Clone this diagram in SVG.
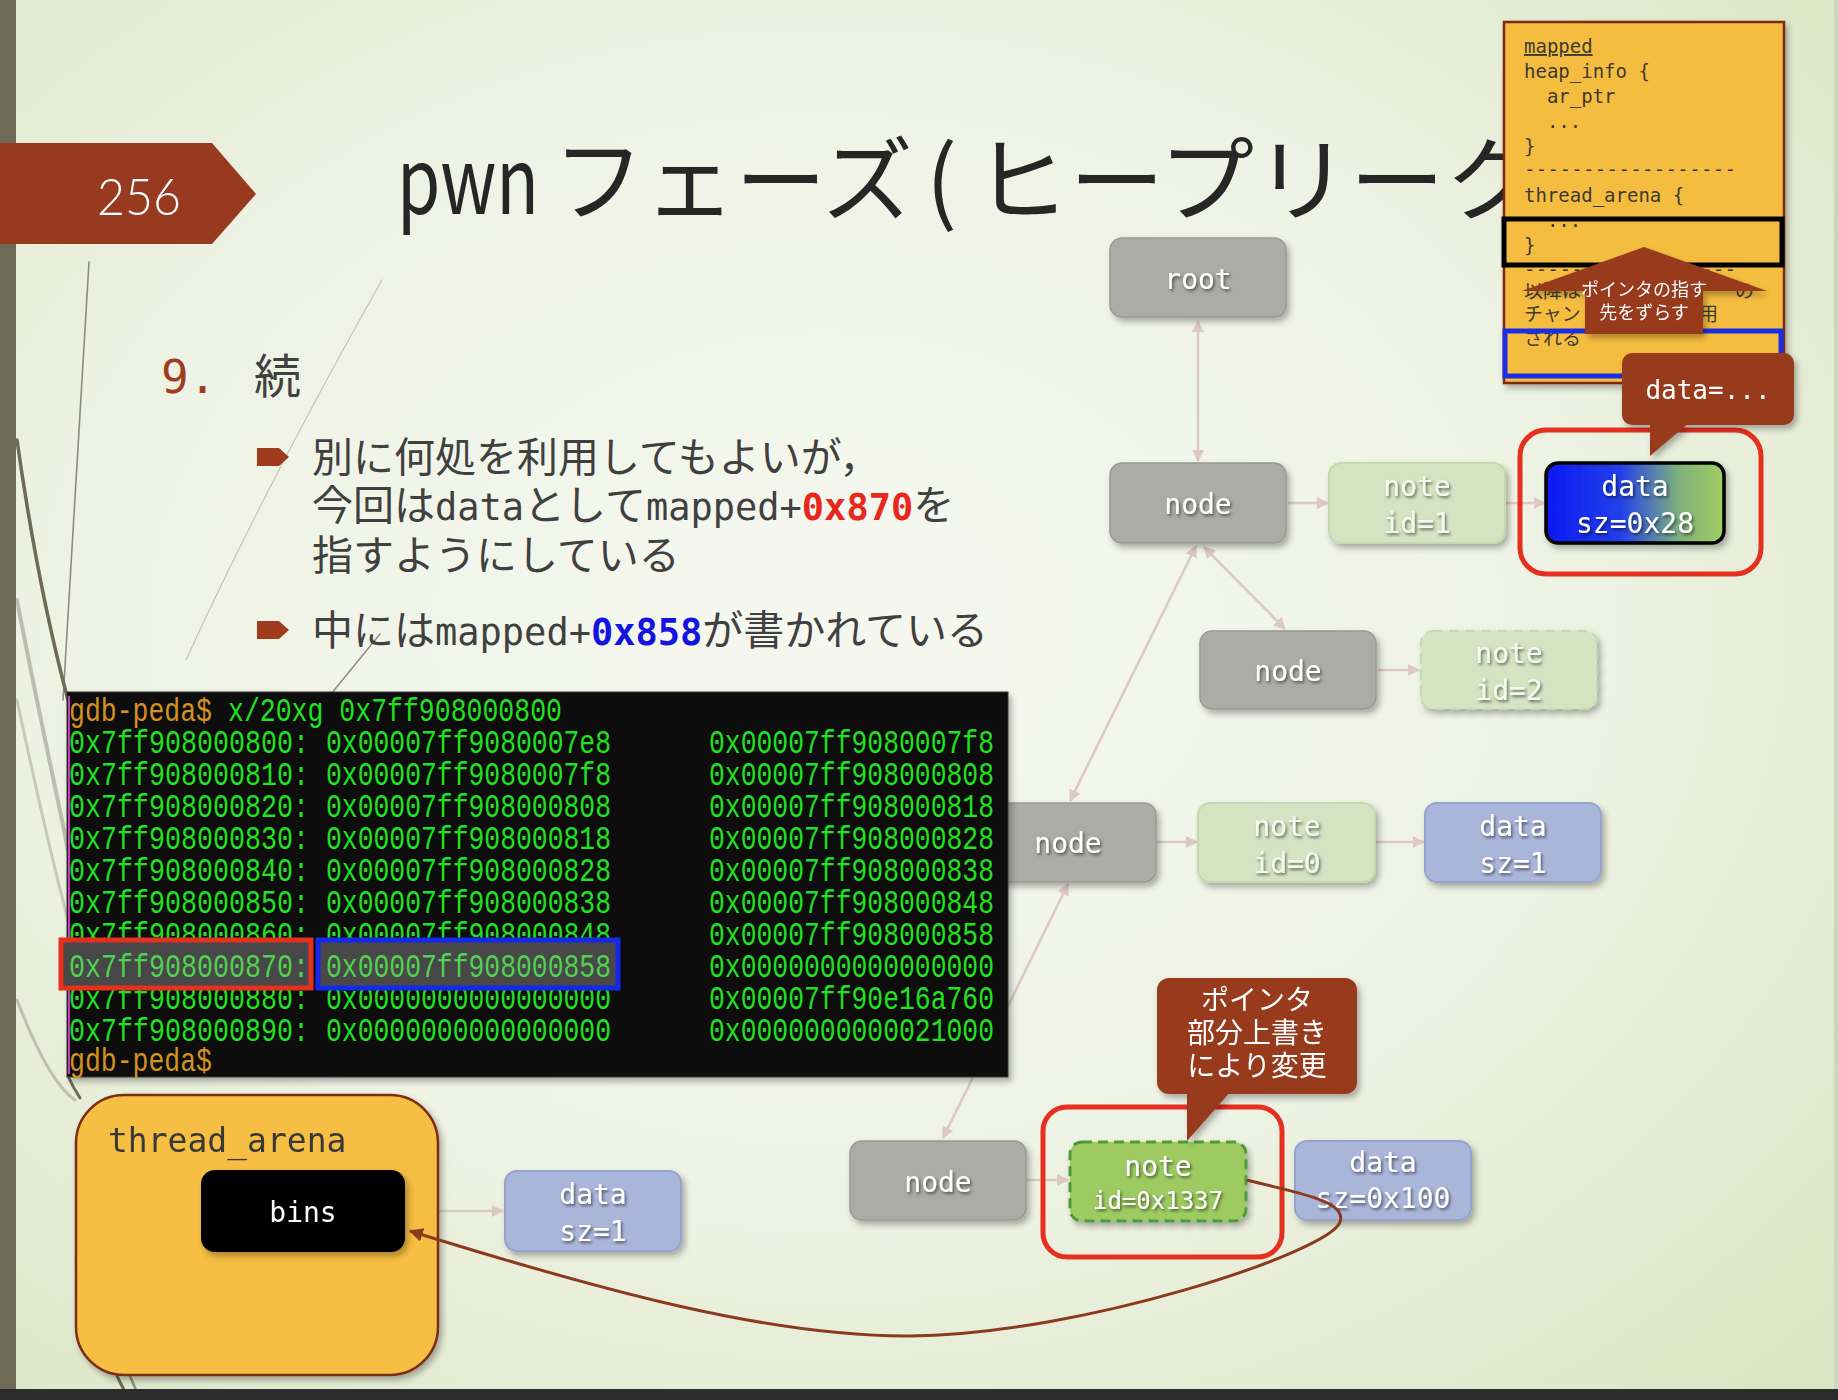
<svg xmlns="http://www.w3.org/2000/svg" width="1838" height="1400" viewBox="0 0 1838 1400">
<defs>
<radialGradient id="bg" cx="0.45" cy="0.45" r="0.75">
<stop offset="0" stop-color="#f6f8f0"/>
<stop offset="0.55" stop-color="#eef2e3"/>
<stop offset="1" stop-color="#dbe5c3"/>
</radialGradient>
<linearGradient id="dgrad" x1="0" y1="0" x2="1" y2="0">
<stop offset="0" stop-color="#0a1af2"/>
<stop offset="0.42" stop-color="#2340ea"/>
<stop offset="0.75" stop-color="#7fb27c"/>
<stop offset="1" stop-color="#a2cd62"/>
</linearGradient>
<filter id="sh" x="-20%" y="-20%" width="140%" height="150%">
<feDropShadow dx="3" dy="4" stdDeviation="3" flood-color="#000" flood-opacity="0.3"/>
</filter>
<filter id="tsh" x="-20%" y="-40%" width="140%" height="180%">
<feDropShadow dx="1.5" dy="2" stdDeviation="1.5" flood-color="#000" flood-opacity="0.55"/>
</filter>
<marker id="ah" viewBox="0 0 12 12" refX="11" refY="6" markerWidth="12" markerHeight="12" markerUnits="userSpaceOnUse" orient="auto-start-reverse">
<path d="M0,0 L12,6 L0,12 z" fill="#dcc9bf"/>
</marker>
<marker id="ahr" viewBox="0 0 12 12" refX="11" refY="6" markerWidth="14" markerHeight="14" markerUnits="userSpaceOnUse" orient="auto">
<path d="M0,0 L12,6 L0,12 z" fill="#8b3a1e"/>
</marker>
<style>
.cjk{font-family:"Noto Sans CJK JP","Noto Sans",sans-serif}
.mono{font-family:"DejaVu Sans Mono","Liberation Mono",monospace}
.term{font-family:"Liberation Mono","DejaVu Sans Mono",monospace;font-size:34px;fill:#22e022}
.prompt{fill:#d4921e}
.gnode{fill:#acaca7;stroke:#999994;stroke-width:1.5}
.fnote{fill:#d4e3c2;stroke:#c3d9ae;stroke-width:2}
.dnode{fill:#aab5da;stroke:#95a3cf;stroke-width:2}
.lbl{font-family:"DejaVu Sans Mono","Liberation Mono",monospace;font-size:28px;fill:#ffffff;text-anchor:middle}
.lbls{font-size:24px}
.flbl{font-family:"DejaVu Sans Mono","Liberation Mono",monospace;font-size:28px;fill:#f4f8ee;text-anchor:middle}
.conn{stroke:#dcc9bf;stroke-width:2.5;fill:none}
.callout{fill:#983a1f}
.ctext{font-family:"Noto Sans CJK JP","Noto Sans",sans-serif;fill:#ffffff;text-anchor:middle}
.mp{font-family:"DejaVu Sans Mono","Liberation Mono",monospace;font-size:19px;fill:#3e3a30}
.deco{fill:none;stroke-linecap:round}
</style>
</defs>

<!-- background -->
<rect x="0" y="0" width="1838" height="1400" fill="url(#bg)"/>
<rect x="1834" y="0" width="4" height="1390" fill="#cfd6bd"/>

<!-- decorative wisps -->
<g id="wisps">
<path class="deco" d="M89,262 C80,420 70,560 63,700" stroke="#8e8c7c" stroke-width="1.6"/>
<path class="deco" d="M17,440 C34,560 52,640 68,700" stroke="#6e6a56" stroke-width="3.5"/>
<path class="deco" d="M17,600 C36,700 54,780 68,850" stroke="#bdbcae" stroke-width="4"/>
<path class="deco" d="M17,700 C34,780 52,860 68,920" stroke="#c8c8ba" stroke-width="3"/>
<path class="deco" d="M17,1000 C40,1060 60,1090 75,1100" stroke="#c0bfb0" stroke-width="3"/>
<path class="deco" d="M68,1076 C72,1085 76,1092 80,1098" stroke="#6e6a56" stroke-width="3"/>
<path class="deco" d="M117,1376 L124,1390" stroke="#6e6a56" stroke-width="3"/>
<path class="deco" d="M130,1376 L136,1390" stroke="#8e8c7c" stroke-width="2.5"/>
<path class="deco" d="M382,280 C320,390 250,520 186,660" stroke="#c2c3b4" stroke-width="1.2"/>
<path class="deco" d="M380,634 L331,694" stroke="#8e8c7c" stroke-width="1.4"/>
</g>

<!-- left bar and bottom strip -->
<rect x="0" y="0" width="16" height="1390" fill="#6e6a56"/>
<rect x="0" y="1389" width="1838" height="11" fill="#2c2c2c"/>

<!-- slide number banner -->
<g id="page-number">
<polygon points="0,143 212,143 256,194 212,244 0,244" fill="#983a1f"/>
<text x="97" y="215" font-family="Lato,'Open Sans',sans-serif" font-weight="300" font-size="52" fill="#ffffff" textLength="84" lengthAdjust="spacingAndGlyphs">256</text>
</g>

<!-- title -->
<g id="title" class="cjk" fill="#262626" font-size="92">
<text x="397" y="214" textLength="142" lengthAdjust="spacingAndGlyphs">pwn</text>
<text x="553" y="214" textLength="360" lengthAdjust="spacingAndGlyphs">フェーズ</text>
<text x="926" y="214">(</text>
<text x="974" y="214" textLength="566" lengthAdjust="spacingAndGlyphs">ヒープリーク</text>
</g>

<!-- section heading and bullets -->
<g id="body">
<text x="161" y="393" class="mono" font-size="46" fill="#a03c1e">9.</text>
<text x="254" y="393" class="cjk" font-size="47" fill="#404040">続</text>
<polygon points="257,448 279,448 289,457 279,466 257,466" fill="#a03c1e"/>
<polygon points="257,621 279,621 289,630 279,639 257,639" fill="#a03c1e"/>
<text x="312" y="472" class="cjk" font-size="41" fill="#404040">別に何処を利用してもよいが，</text>
<text x="312" y="520" class="cjk" font-size="41" fill="#404040">今回は<tspan class="mono" font-size="37">data</tspan>として<tspan class="mono" font-size="37">mapped+</tspan><tspan class="mono" font-size="37" font-weight="bold" fill="#e8281e">0x870</tspan>を</text>
<text x="312" y="570" class="cjk" font-size="41" fill="#404040">指すようにしている</text>
<text x="312" y="645" class="cjk" font-size="41" fill="#404040">中には<tspan class="mono" font-size="37">mapped+</tspan><tspan class="mono" font-size="37" font-weight="bold" fill="#1414e0">0x858</tspan>が書かれている</text>
</g>

<!-- connectors -->
<g id="connectors">
<line class="conn" x1="1198" y1="321" x2="1198" y2="461" marker-start="url(#ah)" marker-end="url(#ah)"/>
<line class="conn" x1="1288" y1="503" x2="1328" y2="503" marker-end="url(#ah)"/>
<line class="conn" x1="1506" y1="503" x2="1545" y2="503" marker-end="url(#ah)"/>
<line class="conn" x1="1204" y1="547" x2="1285" y2="629" marker-start="url(#ah)" marker-end="url(#ah)"/>
<line class="conn" x1="1070" y1="801" x2="1196" y2="546" marker-start="url(#ah)" marker-end="url(#ah)"/>
<line class="conn" x1="1378" y1="670" x2="1419" y2="670" marker-end="url(#ah)"/>
<line class="conn" x1="1157" y1="842" x2="1197" y2="842" marker-end="url(#ah)"/>
<line class="conn" x1="1376" y1="842" x2="1424" y2="842" marker-end="url(#ah)"/>
<line class="conn" x1="943" y1="1138" x2="1068" y2="884" marker-start="url(#ah)" marker-end="url(#ah)"/>
<line class="conn" x1="1027" y1="1180" x2="1068" y2="1180" marker-end="url(#ah)"/>
<line class="conn" x1="406" y1="1211" x2="503" y2="1211" marker-end="url(#ah)"/>
</g>

<!-- graph nodes -->
<g id="node-root" filter="url(#sh)">
<rect class="gnode" x="1110" y="238" width="176" height="79" rx="12"/>
<text class="lbl" x="1198" y="289" filter="url(#tsh)">root</text>
</g>
<g id="node-1" filter="url(#sh)">
<rect class="gnode" x="1110" y="463" width="176" height="80" rx="12"/>
<text class="lbl" x="1198" y="514" filter="url(#tsh)">node</text>
</g>
<g id="note-id1" filter="url(#sh)">
<rect class="fnote" x="1329" y="463" width="176" height="80" rx="12"/>
<text class="flbl" x="1417" y="496" filter="url(#tsh)">note</text>
<text class="flbl" x="1417" y="533" filter="url(#tsh)">id=1</text>
</g>
<g id="data-0x28" filter="url(#sh)">
<rect x="1546" y="463" width="178" height="80" rx="12" fill="url(#dgrad)" stroke="#000" stroke-width="3.5"/>
<text class="lbl" x="1635" y="496" filter="url(#tsh)">data</text>
<text class="lbl" x="1635" y="533" filter="url(#tsh)">sz=0x28</text>
</g>
<g id="node-2" filter="url(#sh)">
<rect class="gnode" x="1200" y="631" width="176" height="78" rx="12"/>
<text class="lbl" x="1288" y="681" filter="url(#tsh)">node</text>
</g>
<g id="note-id2" filter="url(#sh)">
<rect class="fnote" x="1421" y="631" width="176" height="78" rx="12" stroke-dasharray="10 6"/>
<text class="flbl" x="1509" y="663" filter="url(#tsh)">note</text>
<text class="flbl" x="1509" y="700" filter="url(#tsh)">id=2</text>
</g>
<g id="node-3" filter="url(#sh)">
<rect class="gnode" x="980" y="803" width="176" height="79" rx="12"/>
<text class="lbl" x="1068" y="853" filter="url(#tsh)">node</text>
</g>
<g id="note-id0" filter="url(#sh)">
<rect class="fnote" x="1198" y="803" width="177" height="79" rx="12"/>
<text class="flbl" x="1287" y="836" filter="url(#tsh)">note</text>
<text class="flbl" x="1287" y="873" filter="url(#tsh)">id=0</text>
</g>
<g id="data-sz1-a" filter="url(#sh)">
<rect class="dnode" x="1425" y="803" width="176" height="79" rx="12"/>
<text class="lbl" x="1513" y="836" filter="url(#tsh)">data</text>
<text class="lbl" x="1513" y="873" filter="url(#tsh)">sz=1</text>
</g>
<g id="node-4" filter="url(#sh)">
<rect class="gnode" x="850" y="1141" width="176" height="79" rx="12"/>
<text class="lbl" x="938" y="1192" filter="url(#tsh)">node</text>
</g>
<g id="note-1337" filter="url(#sh)">
<rect x="1070" y="1142" width="176" height="79" rx="12" fill="#9dcb62" stroke="#4f9a3a" stroke-width="3" stroke-dasharray="10 6"/>
<text class="lbl" x="1158" y="1176" filter="url(#tsh)">note</text>
<text class="lbl lbls" x="1158" y="1209" filter="url(#tsh)">id=0x1337</text>
</g>
<g id="data-0x100" filter="url(#sh)">
<rect class="dnode" x="1295" y="1141" width="176" height="79" rx="12"/>
<text class="lbl" x="1383" y="1172" filter="url(#tsh)">data</text>
<text class="lbl" x="1383" y="1208" filter="url(#tsh)">sz=0x100</text>
</g>

<!-- terminal screenshot -->
<g id="terminal">
<rect x="67" y="692" width="941" height="385" fill="#0d0d0d" stroke="#3a3a3a" stroke-width="1" filter="url(#sh)"/>
<line x1="69" y1="696" x2="69" y2="1074" stroke="#c040c0" stroke-width="2"/>
<g class="term">
<text x="69" y="721"><tspan class="prompt" textLength="143" lengthAdjust="spacingAndGlyphs">gdb-peda$</tspan></text>
<text x="228" y="721" textLength="334" lengthAdjust="spacingAndGlyphs">x/20xg 0x7ff908000800</text>
<text x="69" y="753" textLength="240" lengthAdjust="spacingAndGlyphs">0x7ff908000800:</text>
<text x="326" y="753" textLength="285" lengthAdjust="spacingAndGlyphs">0x00007ff9080007e8</text>
<text x="709" y="753" textLength="285" lengthAdjust="spacingAndGlyphs">0x00007ff9080007f8</text>
<text x="69" y="785" textLength="240" lengthAdjust="spacingAndGlyphs">0x7ff908000810:</text>
<text x="326" y="785" textLength="285" lengthAdjust="spacingAndGlyphs">0x00007ff9080007f8</text>
<text x="709" y="785" textLength="285" lengthAdjust="spacingAndGlyphs">0x00007ff908000808</text>
<text x="69" y="817" textLength="240" lengthAdjust="spacingAndGlyphs">0x7ff908000820:</text>
<text x="326" y="817" textLength="285" lengthAdjust="spacingAndGlyphs">0x00007ff908000808</text>
<text x="709" y="817" textLength="285" lengthAdjust="spacingAndGlyphs">0x00007ff908000818</text>
<text x="69" y="849" textLength="240" lengthAdjust="spacingAndGlyphs">0x7ff908000830:</text>
<text x="326" y="849" textLength="285" lengthAdjust="spacingAndGlyphs">0x00007ff908000818</text>
<text x="709" y="849" textLength="285" lengthAdjust="spacingAndGlyphs">0x00007ff908000828</text>
<text x="69" y="881" textLength="240" lengthAdjust="spacingAndGlyphs">0x7ff908000840:</text>
<text x="326" y="881" textLength="285" lengthAdjust="spacingAndGlyphs">0x00007ff908000828</text>
<text x="709" y="881" textLength="285" lengthAdjust="spacingAndGlyphs">0x00007ff908000838</text>
<text x="69" y="913" textLength="240" lengthAdjust="spacingAndGlyphs">0x7ff908000850:</text>
<text x="326" y="913" textLength="285" lengthAdjust="spacingAndGlyphs">0x00007ff908000838</text>
<text x="709" y="913" textLength="285" lengthAdjust="spacingAndGlyphs">0x00007ff908000848</text>
<text x="69" y="945" textLength="240" lengthAdjust="spacingAndGlyphs">0x7ff908000860:</text>
<text x="326" y="945" textLength="285" lengthAdjust="spacingAndGlyphs">0x00007ff908000848</text>
<text x="709" y="945" textLength="285" lengthAdjust="spacingAndGlyphs">0x00007ff908000858</text>
<text x="709" y="977" textLength="285" lengthAdjust="spacingAndGlyphs">0x0000000000000000</text>
<text x="69" y="1009" textLength="240" lengthAdjust="spacingAndGlyphs">0x7ff908000880:</text>
<text x="326" y="1009" textLength="285" lengthAdjust="spacingAndGlyphs">0x0000000000000000</text>
<text x="709" y="1009" textLength="285" lengthAdjust="spacingAndGlyphs">0x00007ff90e16a760</text>
<text x="69" y="1041" textLength="240" lengthAdjust="spacingAndGlyphs">0x7ff908000890:</text>
<text x="326" y="1041" textLength="285" lengthAdjust="spacingAndGlyphs">0x0000000000000000</text>
<text x="709" y="1041" textLength="285" lengthAdjust="spacingAndGlyphs">0x0000000000021000</text>
<text x="69" y="1071"><tspan class="prompt" textLength="143" lengthAdjust="spacingAndGlyphs">gdb-peda$</tspan></text>
</g>
<rect x="61" y="940" width="250" height="48" fill="#484848" stroke="#e5301f" stroke-width="5"/>
<rect x="318" y="940" width="300" height="48" fill="#484848" stroke="#1428e8" stroke-width="5"/>
<g class="term" style="fill:#4fd24f">
<text x="69" y="977" textLength="240" lengthAdjust="spacingAndGlyphs">0x7ff908000870:</text>
<text x="326" y="977" textLength="285" lengthAdjust="spacingAndGlyphs">0x00007ff908000858</text>
</g>
</g>

<!-- thread_arena -->
<g id="thread-arena" filter="url(#sh)">
<rect x="76" y="1095" width="362" height="280" rx="48" fill="#f6be42" stroke="#7a2e12" stroke-width="2.5"/>
<text x="108" y="1152" class="mono" font-size="33" fill="#383838">thread_arena</text>
</g>
<g id="bins" filter="url(#sh)">
<rect x="201" y="1170" width="204" height="82" rx="14" fill="#000"/>
<text class="lbl" x="303" y="1222">bins</text>
</g>
<g id="data-sz1-b" filter="url(#sh)">
<rect class="dnode" x="505" y="1171" width="176" height="80" rx="12"/>
<text class="lbl" x="593" y="1204" filter="url(#tsh)">data</text>
<text class="lbl" x="593" y="1241" filter="url(#tsh)">sz=1</text>
</g>

<!-- highlight boxes -->
<g id="highlights" fill="none" stroke="#e5301f" stroke-width="5">
<rect x="1520" y="430" width="241" height="144" rx="26"/>
<rect x="1043" y="1107" width="239" height="150" rx="24"/>
</g>

<!-- overwritten pointer curve -->
<path id="leak-curve" d="M1247,1180 C1292,1192 1348,1200 1340,1222 C1330,1252 1080,1335 910,1336 C770,1337 600,1290 410,1231" fill="none" stroke="#8b3a1e" stroke-width="3" marker-end="url(#ahr)"/>

<!-- callout: pointer partial overwrite -->
<g id="callout-overwrite" filter="url(#sh)">
<rect class="callout" x="1157" y="978" width="200" height="116" rx="12"/>
<polygon class="callout" points="1187,1090 1232,1090 1187,1141"/>
<text class="ctext" x="1257" y="1010" font-size="28">ポインタ</text>
<text class="ctext" x="1257" y="1043" font-size="28">部分上書き</text>
<text class="ctext" x="1257" y="1076" font-size="28">により変更</text>
</g>

<!-- mapped memory box -->
<g id="mapped">
<rect x="1504" y="22" width="280" height="361" fill="#f5bd41" stroke="#7a2a10" stroke-width="2.5" filter="url(#sh)"/>
<text class="mp" x="1524" y="53" text-decoration="underline">mapped</text>
<text class="mp" x="1524" y="78">heap_info {</text>
<text class="mp" x="1524" y="103" xml:space="preserve">  ar_ptr</text>
<text class="mp" x="1524" y="128" xml:space="preserve">  ...</text>
<text class="mp" x="1524" y="153">}</text>
<text class="mp" x="1524" y="176" textLength="212">------------------</text>
<text class="mp" x="1524" y="202">thread_arena {</text>
<text class="mp" x="1524" y="227" xml:space="preserve">  ...</text>
<text class="mp" x="1524" y="252">}</text>
<text class="mp" x="1524" y="276" textLength="212">------------------</text>
<text class="cjk" x="1524" y="298" font-size="19" fill="#3e3a30">以降は</text>
<text class="cjk" x="1735" y="298" font-size="19" fill="#3e3a30">の</text>
<text class="cjk" x="1524" y="321" font-size="19" fill="#3e3a30">チャン</text>
<text class="cjk" x="1699" y="321" font-size="19" fill="#3e3a30">用</text>
<text class="cjk" x="1524" y="345" font-size="19" fill="#3e3a30">される</text>
<rect x="1504" y="219" width="278" height="46" fill="none" stroke="#000" stroke-width="5"/>
<rect x="1505" y="331" width="276" height="45" fill="none" stroke="#1a2ee8" stroke-width="5"/>
</g>
<g id="shift-arrow" filter="url(#sh)">
<polygon points="1644,247 1767,291 1703,291 1703,334 1585,334 1585,291 1522,291" fill="#983a1f"/>
<text class="ctext" x="1644" y="296" font-size="18">ポインタの指す</text>
<text class="ctext" x="1644" y="319" font-size="18">先をずらす</text>
</g>

<!-- callout: data=... -->
<g id="callout-data" filter="url(#sh)">
<rect class="callout" x="1622" y="353" width="172" height="72" rx="10"/>
<polygon class="callout" points="1650,422 1690,422 1650,456"/>
<text x="1708" y="399" class="mono" font-size="26" fill="#ffffff" text-anchor="middle">data=...</text>
</g>
</svg>
